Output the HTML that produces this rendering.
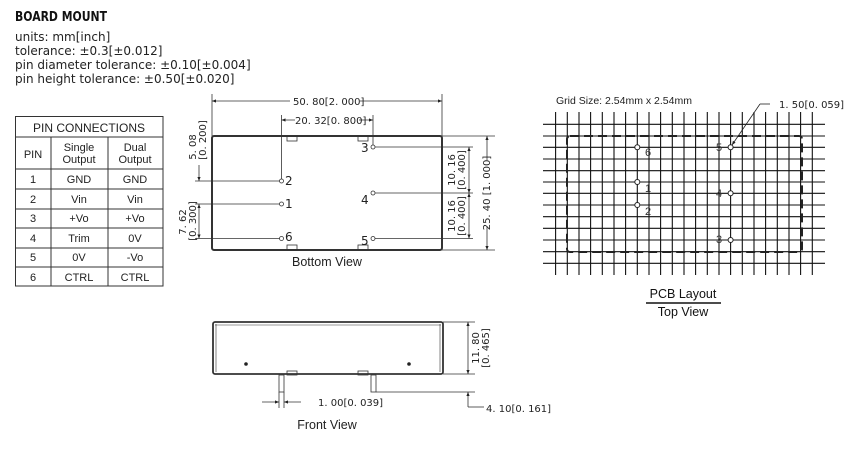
<!DOCTYPE html>
<html><head><meta charset="utf-8"><style>
body{margin:0;background:#fff;}
svg{display:block;font-family:"Liberation Sans",sans-serif;}
.t{font-size:11px;fill:#222;}
.d{font-size:10px;fill:#222;font-family:"DejaVu Sans","Liberation Sans",sans-serif;}
</style></head><body>
<svg width="866" height="452" viewBox="0 0 866 452" xmlns="http://www.w3.org/2000/svg">
<defs>
<marker id="a" viewBox="0 0 10 10" refX="10" refY="5" markerWidth="7" markerHeight="5" orient="auto-start-reverse"><path d="M0,1L10,5L0,9z" fill="#222"/></marker>
</defs>
<text x="15" y="21" style="font-size:13px;font-weight:bold;fill:#111;font-family:'DejaVu Sans',sans-serif" textLength="92" lengthAdjust="spacingAndGlyphs">BOARD MOUNT</text>
<g style="font-size:12px;fill:#222;font-family:'DejaVu Sans',sans-serif">
<text x="15" y="41">units: mm[inch]</text>
<text x="15" y="55">tolerance: ±0.3[±0.012]</text>
<text x="15" y="69">pin diameter tolerance: ±0.10[±0.004]</text>
<text x="15" y="83">pin height tolerance: ±0.50[±0.020]</text>
</g>
<!-- table -->
<g stroke="#333" stroke-width="1" fill="none">
<rect x="15.5" y="116.5" width="147.5" height="169.5"/>
<line x1="15.5" y1="137" x2="163" y2="137"/>
<line x1="15.5" y1="169" x2="163" y2="169"/>
<line x1="15.5" y1="189" x2="163" y2="189"/>
<line x1="15.5" y1="209" x2="163" y2="209"/>
<line x1="15.5" y1="228" x2="163" y2="228"/>
<line x1="15.5" y1="248" x2="163" y2="248"/>
<line x1="15.5" y1="267" x2="163" y2="267"/>
<line x1="51" y1="137" x2="51" y2="286"/>
<line x1="108" y1="137" x2="108" y2="286"/>
</g>
<g class="t" text-anchor="middle">
<text x="89" y="132" style="font-size:12px">PIN CONNECTIONS</text>
<text x="33" y="158">PIN</text>
<text x="79" y="151">Single</text><text x="79" y="163">Output</text>
<text x="135" y="151">Dual</text><text x="135" y="163">Output</text>
<text x="33" y="183">1</text><text x="79" y="183">GND</text><text x="135" y="183">GND</text>
<text x="33" y="203">2</text><text x="79" y="203">Vin</text><text x="135" y="203">Vin</text>
<text x="33" y="222">3</text><text x="79" y="222">+Vo</text><text x="135" y="222">+Vo</text>
<text x="33" y="242">4</text><text x="79" y="242">Trim</text><text x="135" y="242">0V</text>
<text x="33" y="261">5</text><text x="79" y="261">0V</text><text x="135" y="261">-Vo</text>
<text x="33" y="281">6</text><text x="79" y="281">CTRL</text><text x="135" y="281">CTRL</text>
</g>
<!-- bottom view -->
<g stroke="#333" fill="none">
<rect x="212" y="136" width="230" height="114" rx="2" stroke-width="2"/>
<g stroke-width="0.8">
<rect x="287" y="136" width="10" height="5"/><rect x="358" y="136" width="10" height="5"/>
<rect x="287" y="245" width="10" height="5"/><rect x="358" y="245" width="10" height="5"/>
<circle cx="281.5" cy="181" r="2"/><circle cx="281.5" cy="204" r="2"/><circle cx="281.5" cy="238.5" r="2"/>
<circle cx="373" cy="147" r="2"/><circle cx="373" cy="193" r="2"/><circle cx="373" cy="238.5" r="2"/>
<line x1="212" y1="94" x2="212" y2="136"/><line x1="442" y1="94" x2="442" y2="136"/>
<line x1="281.5" y1="115" x2="281.5" y2="179"/><line x1="373" y1="115" x2="373" y2="145"/>
<line x1="375" y1="147" x2="473" y2="147"/><line x1="375" y1="193" x2="473" y2="193"/><line x1="375" y1="238.5" x2="473" y2="238.5"/>
<line x1="442" y1="136" x2="495" y2="136"/><line x1="442" y1="250" x2="495" y2="250"/>
<line x1="195" y1="181" x2="279.5" y2="181"/><line x1="195" y1="204" x2="279.5" y2="204"/><line x1="195" y1="238.5" x2="279.5" y2="238.5"/>
<line x1="212" y1="101" x2="442" y2="101" marker-start="url(#a)" marker-end="url(#a)"/>
<line x1="281.5" y1="120" x2="373" y2="120" marker-start="url(#a)" marker-end="url(#a)"/>
<line x1="469" y1="147" x2="469" y2="193" marker-start="url(#a)" marker-end="url(#a)"/>
<line x1="469" y1="193" x2="469" y2="238.5" marker-start="url(#a)" marker-end="url(#a)"/>
<line x1="487" y1="136" x2="487" y2="250" marker-start="url(#a)" marker-end="url(#a)"/>
<line x1="199" y1="165" x2="199" y2="181" marker-end="url(#a)"/>
<line x1="199" y1="204" x2="199" y2="238.5" marker-start="url(#a)" marker-end="url(#a)"/>
</g>
</g>
<g class="d">
<rect x="290" y="95" width="70" height="12" fill="#fff"/>
<text x="293" y="105">50. 80[2. 000]</text>
<rect x="295" y="114" width="64" height="12" fill="#fff"/>
<text x="295" y="124">20. 32[0. 800]</text>
<g style="font-size:12px">
<text x="285" y="185">2</text><text x="285" y="208">1</text><text x="285" y="241">6</text>
<text x="361" y="152">3</text><text x="361" y="204">4</text><text x="361" y="245">5</text>
</g>
<text transform="translate(455,170) rotate(-90)" text-anchor="middle">10. 16</text>
<text transform="translate(465,170) rotate(-90)" text-anchor="middle">[0. 400]</text>
<text transform="translate(455,216) rotate(-90)" text-anchor="middle">10. 16</text>
<text transform="translate(465,216) rotate(-90)" text-anchor="middle">[0. 400]</text>
<rect x="481" y="160" width="12" height="66" fill="#fff"/>
<text transform="translate(490,193) rotate(-90)" text-anchor="middle">25. 40 [1. 000]</text>
<text transform="translate(196,147) rotate(-90)" text-anchor="middle">5. 08</text>
<text transform="translate(206,140) rotate(-90)" text-anchor="middle">[0. 200]</text>
<text transform="translate(186,222) rotate(-90)" text-anchor="middle">7. 62</text>
<text transform="translate(196,221) rotate(-90)" text-anchor="middle">[0. 300]</text>
</g>
<text x="327" y="266" text-anchor="middle" style="font-size:12.5px;fill:#222">Bottom View</text>
<!-- front view -->
<g stroke="#333" fill="none">
<rect x="213" y="322" width="230" height="52" rx="2" stroke-width="1.8"/>
<line x1="216" y1="324" x2="216" y2="372" stroke-width="0.6"/><line x1="440" y1="324" x2="440" y2="372" stroke-width="0.6"/>
<line x1="215" y1="325" x2="441" y2="325" stroke-width="0.6"/>
<g stroke-width="0.8">
<rect x="287" y="371" width="10" height="4"/><rect x="358" y="371" width="10" height="4"/>
<rect x="279" y="375" width="5" height="17"/><rect x="371" y="375" width="5" height="17"/>
<line x1="443" y1="322" x2="475" y2="322"/><line x1="443" y1="374" x2="475" y2="374"/>
<line x1="376" y1="392" x2="475" y2="392"/>
<line x1="468" y1="322" x2="468" y2="374" marker-start="url(#a)" marker-end="url(#a)"/>
<line x1="468" y1="407" x2="468" y2="392" marker-end="url(#a)"/>
<line x1="468" y1="407" x2="484" y2="407"/>
<line x1="279" y1="392" x2="279" y2="408"/><line x1="284" y1="392" x2="284" y2="408"/>
<line x1="262" y1="402" x2="279" y2="402" marker-end="url(#a)"/>
<line x1="301" y1="402" x2="284" y2="402" marker-end="url(#a)"/>
</g>
</g>
<circle cx="246" cy="364" r="1.8" fill="#222"/><circle cx="409" cy="364" r="1.8" fill="#222"/>
<g class="d">
<rect x="470" y="330" width="22" height="38" fill="#fff"/>
<text transform="translate(479,348) rotate(-90)" text-anchor="middle">11. 80</text>
<text transform="translate(489,348) rotate(-90)" text-anchor="middle">[0. 465]</text>
<text x="486" y="412">4. 10[0. 161]</text>
<text x="318" y="406">1. 00[0. 039]</text>
</g>
<text x="327" y="429" text-anchor="middle" style="font-size:12.5px;fill:#222">Front View</text>
<!-- PCB layout grid -->
<g stroke="#111" stroke-width="1.1">
<line x1="543" y1="124.3" x2="825" y2="124.3"/><line x1="543" y1="136" x2="825" y2="136"/>
<line x1="543" y1="147.3" x2="825" y2="147.3"/><line x1="543" y1="159" x2="825" y2="159"/>
<line x1="543" y1="170.7" x2="825" y2="170.7"/><line x1="543" y1="182" x2="825" y2="182"/>
<line x1="543" y1="193.3" x2="825" y2="193.3"/><line x1="543" y1="205" x2="825" y2="205"/>
<line x1="543" y1="216.7" x2="825" y2="216.7"/><line x1="543" y1="228.3" x2="825" y2="228.3"/>
<line x1="543" y1="240" x2="825" y2="240"/><line x1="543" y1="251.7" x2="825" y2="251.7"/>
<line x1="543" y1="263.3" x2="825" y2="263.3"/>
<line x1="555.6" y1="112" x2="555.6" y2="275"/><line x1="567.3" y1="112" x2="567.3" y2="275"/>
<line x1="579" y1="112" x2="579" y2="275"/><line x1="590.6" y1="112" x2="590.6" y2="275"/>
<line x1="602.3" y1="112" x2="602.3" y2="275"/><line x1="614" y1="112" x2="614" y2="275"/>
<line x1="625.6" y1="112" x2="625.6" y2="275"/><line x1="637.3" y1="112" x2="637.3" y2="275"/>
<line x1="649" y1="112" x2="649" y2="275"/><line x1="660.6" y1="112" x2="660.6" y2="275"/>
<line x1="672.3" y1="112" x2="672.3" y2="275"/><line x1="684" y1="112" x2="684" y2="275"/>
<line x1="695.6" y1="112" x2="695.6" y2="275"/><line x1="707.3" y1="112" x2="707.3" y2="275"/>
<line x1="719" y1="112" x2="719" y2="275"/><line x1="730.6" y1="112" x2="730.6" y2="275"/>
<line x1="742.3" y1="112" x2="742.3" y2="275"/><line x1="754" y1="112" x2="754" y2="275"/>
<line x1="765.6" y1="112" x2="765.6" y2="275"/><line x1="777.3" y1="112" x2="777.3" y2="275"/>
<line x1="789" y1="112" x2="789" y2="275"/><line x1="800.6" y1="112" x2="800.6" y2="275"/>
<line x1="812.3" y1="112" x2="812.3" y2="275"/>
</g>
<rect x="567" y="136" width="235" height="116" rx="3" fill="none" stroke="#222" stroke-width="2" stroke-dasharray="9,5"/>
<g fill="#fff" stroke="#222" stroke-width="1">
<circle cx="637.3" cy="147.3" r="2.5"/><circle cx="637.3" cy="182" r="2.5"/><circle cx="637.3" cy="205" r="2.5"/>
<circle cx="730.6" cy="147.3" r="2.5"/><circle cx="730.6" cy="193.3" r="2.5"/><circle cx="730.6" cy="240" r="2.5"/>
</g>
<g style="font-size:11px;fill:#333">
<text x="645" y="156">6</text><text x="645" y="192">1</text><text x="645" y="215">2</text>
<text x="716" y="151">5</text><text x="716" y="197">4</text><text x="716" y="243">3</text>
</g>
<line x1="760" y1="104" x2="732" y2="145" stroke="#222" stroke-width="0.8" marker-end="url(#a)"/>
<line x1="760" y1="104" x2="770" y2="104" stroke="#222" stroke-width="0.8"/>
<text x="779" y="108" class="d">1. 50[0. 059]</text>
<text x="556" y="104" style="font-size:10.5px;fill:#222">Grid Size: 2.54mm x 2.54mm</text>
<text x="683" y="298" text-anchor="middle" style="font-size:12.5px;fill:#111">PCB Layout</text>
<line x1="646" y1="303" x2="721" y2="303" stroke="#111" stroke-width="1.5"/>
<text x="683" y="316" text-anchor="middle" style="font-size:12.5px;fill:#111">Top View</text>
</svg>
</body></html>
